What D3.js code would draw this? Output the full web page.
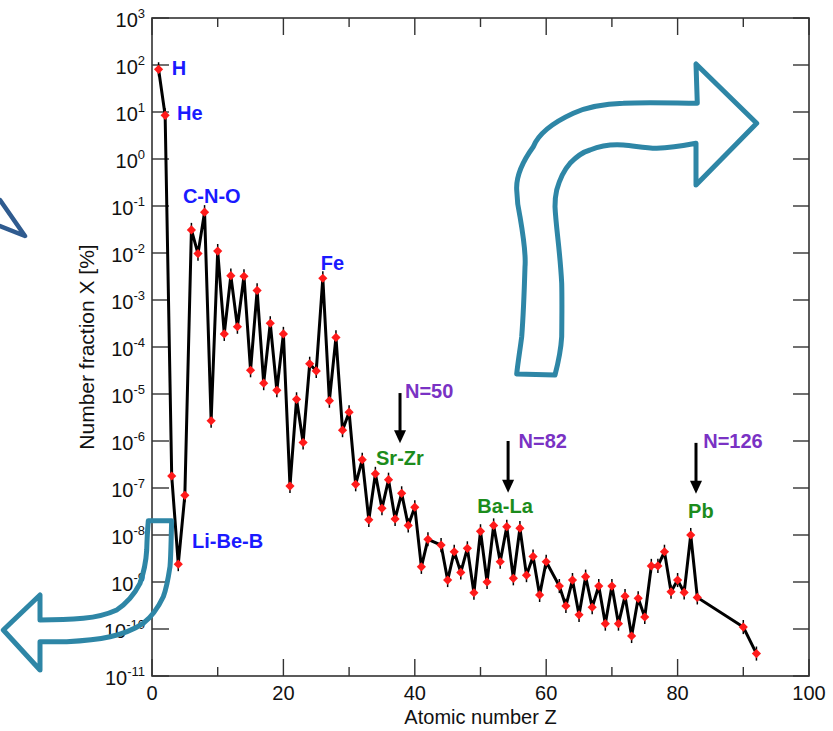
<!DOCTYPE html>
<html>
<head>
<meta charset="utf-8">
<script src="https://cdn.jsdelivr.net/npm/d3@7"></script>
<style>
  html, body { margin: 0; padding: 0; background: #fff; }
  svg { display: block; }
  text { font-family: "Liberation Sans", Arial, Helvetica, sans-serif; }
</style>
</head>
<body>
<svg id="chart" width="833" height="731"></svg>
<script>
// ---------------- data ----------------
const atomicZ = [
  1, 2, 3, 4, 5, 6, 7, 8, 9, 10,
  11, 12, 13, 14, 15, 16, 17, 18, 19, 20,
  21, 22, 23, 24, 25, 26, 27, 28, 29, 30,
  31, 32, 33, 34, 35, 36, 37, 38, 39, 40,
  41, 42, 44, 45, 46, 47, 48, 49, 50,
  51, 52, 53, 54, 55, 56, 57, 58, 59, 60,
  62, 63, 64, 65, 66, 67, 68, 69, 70,
  71, 72, 73, 74, 75, 76, 77, 78, 79, 80,
  81, 82, 83, 90, 92
];
const numberFraction = [
  81, 8.5, 1.8e-7, 2.4e-9, 7e-8, 0.031, 0.0097, 0.074, 2.7e-6, 0.011,
  1.9e-4, 3.3e-3, 2.7e-4, 3.2e-3, 3.2e-5, 1.6e-3, 1.7e-5, 3.2e-4, 1.2e-5, 1.9e-4,
  1.1e-7, 7.7e-6, 9.3e-7, 4.4e-5, 3.1e-5, 2.9e-3, 7.2e-6, 1.6e-4, 1.7e-6, 4.1e-6,
  1.2e-7, 4.0e-7, 2.1e-8, 2.0e-7, 3.7e-8, 1.5e-7, 2.2e-8, 7.7e-8, 1.6e-8, 3.9e-8,
  2.1e-9, 8.1e-9, 6.1e-9, 1.1e-9, 4.4e-9, 1.6e-9, 5.2e-9, 5.9e-10, 1.2e-8,
  1.0e-9, 1.6e-8, 2.7e-9, 1.5e-8, 1.2e-9, 1.4e-8, 1.4e-9, 3.5e-9, 5.3e-10, 2.7e-9,
  8.2e-10, 3.1e-10, 1.1e-9, 2.0e-10, 1.3e-9, 2.9e-10, 8.2e-10, 1.3e-10, 8.2e-10,
  1.3e-10, 5.0e-10, 7.1e-11, 4.5e-10, 1.8e-10, 2.2e-9, 2.2e-9, 4.4e-9, 6.2e-10, 1.1e-9,
  6.0e-10, 1.0e-8, 4.7e-10, 1.1e-10, 3.0e-11
];
const xTickValues = [0, 20, 40, 60, 80, 100];
const xMinorTickValues = [10, 30, 50, 70, 90];
const yTickExponents = [-11, -10, -9, -8, -7, -6, -5, -4, -3, -2, -1, 0, 1, 2, 3];

// element-group labels (position in data units: Z, value at text baseline)
const groupLabels = ["H", "He", "C-N-O", "Fe", "Li-Be-B"];
const groupLabelZ = [3.0, 3.8, 4.7, 25.7, 6.1];
const groupLabelV = [10 ** 1.79, 10 ** 0.83, 10 ** -0.94, 10 ** -2.36, 10 ** -8.28];

const peakLabels = ["Sr-Zr", "Ba-La", "Pb"];
const peakLabelZ = [34.1, 49.5, 81.6];
const peakLabelV = [10 ** -6.51, 10 ** -7.53, 10 ** -7.64];

const shellLabels = ["N=50", "N=82", "N=126"];
const shellLabelZ = [38.5, 55.8, 83.9];
const shellLabelV = [10 ** -5.085, 10 ** -6.15, 10 ** -6.15];
const shellArrowZ = [37.75, 54.2, 82.8];
const shellArrowTop = [10 ** -4.98, 10 ** -6.0, 10 ** -6.04];
const shellArrowBottom = [10 ** -6.05, 10 ** -7.1, 10 ** -7.12];

// ---------------- layout ----------------
const svg = d3.select("#chart");
const plotL = 152, plotR = 809, plotT = 18, plotB = 676;

const x = d3.scaleLinear().domain([0, 100]).range([plotL, plotR]);
const y = d3.scaleLog().domain([1e-11, 1e3]).range([plotB, plotT]);

const axisColor = "#333";

const g = svg.append("g");
function tickLine(x1, y1, x2, y2) {
  g.append("line").attr("x1", x1).attr("y1", y1).attr("x2", x2).attr("y2", y2)
    .attr("stroke", axisColor).attr("stroke-width", 1.4);
}
xTickValues.forEach(v => {
  tickLine(x(v), plotB, x(v), plotB - 17);
  tickLine(x(v), plotT, x(v), plotT + 17);
});
xMinorTickValues.forEach(v => {
  tickLine(x(v), plotB, x(v), plotB - 9);
  tickLine(x(v), plotT, x(v), plotT + 9);
});
yTickExponents.forEach(e => {
  tickLine(plotL, y(10 ** e), plotL + 17, y(10 ** e));
  tickLine(plotR, y(10 ** e), plotR - 16, y(10 ** e));
});

g.append("rect").attr("x", plotL).attr("y", plotT)
  .attr("width", plotR - plotL).attr("height", plotB - plotT)
  .attr("fill", "none").attr("stroke", axisColor).attr("stroke-width", 1.6);

xTickValues.forEach(v => {
  g.append("text").attr("x", x(v)).attr("y", plotB + 24)
    .attr("text-anchor", "middle").attr("font-size", 20).attr("fill", "#111")
    .text(v);
});
yTickExponents.forEach(e => {
  const t = g.append("text").attr("x", plotL - 7).attr("y", y(10 ** e) + 9)
    .attr("text-anchor", "end").attr("font-size", 20).attr("fill", "#111");
  t.append("tspan").text("10");
  t.append("tspan").attr("dy", -9).attr("font-size", 13).text(e);
});

g.append("text").attr("x", (plotL + plotR) / 2).attr("y", 724)
  .attr("text-anchor", "middle").attr("font-size", 20).attr("fill", "#111")
  .text("Atomic number Z");
g.append("text")
  .attr("transform", `translate(94, ${(plotT + plotB) / 2}) rotate(-90)`)
  .attr("text-anchor", "middle").attr("font-size", 21).attr("fill", "#111")
  .text("Number fraction X [%]");

// ---------------- data series ----------------
const pts = atomicZ.map((z, i) => ({ z, v: numberFraction[i] }));

const eb = 0.15;
g.append("g").selectAll("line").data(pts).join("line")
  .attr("x1", d => x(d.z)).attr("x2", d => x(d.z))
  .attr("y1", d => y(d.v * 10 ** eb)).attr("y2", d => y(d.v / 10 ** eb))
  .attr("stroke", "#000").attr("stroke-width", 1.5);

const line = d3.line().x(d => x(d.z)).y(d => y(d.v));
g.append("path").datum(pts).attr("d", line)
  .attr("fill", "none").attr("stroke", "#000").attr("stroke-width", 3)
  .attr("stroke-linejoin", "miter").attr("stroke-miterlimit", 3);

const mk = 4.6;
g.append("g").selectAll("path").data(pts).join("path")
  .attr("d", `M0,${-mk}L${mk},0L0,${mk}L${-mk},0Z`)
  .attr("transform", d => `translate(${x(d.z)},${y(d.v)})`)
  .attr("fill", "#ff1a1a");

// ---------------- annotations ----------------
groupLabels.forEach((t, i) => {
  g.append("text").attr("x", x(groupLabelZ[i])).attr("y", y(groupLabelV[i]))
    .attr("font-size", 20).attr("font-weight", "bold").attr("fill", "#1a1aff")
    .text(t);
});
peakLabels.forEach((t, i) => {
  g.append("text").attr("x", x(peakLabelZ[i])).attr("y", y(peakLabelV[i]))
    .attr("font-size", 20).attr("font-weight", "bold").attr("fill", "#1c8c1c")
    .text(t);
});
shellLabels.forEach((t, i) => {
  g.append("text").attr("x", x(shellLabelZ[i])).attr("y", y(shellLabelV[i]))
    .attr("font-size", 20).attr("font-weight", "bold").attr("fill", "#7a32c4")
    .text(t);
  const ax = x(shellArrowZ[i]), y0 = y(shellArrowTop[i]), y1 = y(shellArrowBottom[i]);
  g.append("line").attr("x1", ax).attr("x2", ax).attr("y1", y0).attr("y2", y1 - 10)
    .attr("stroke", "#000").attr("stroke-width", 3);
  g.append("path").attr("d", `M${ax - 6},${y1 - 13} L${ax + 6},${y1 - 13} L${ax},${y1} Z`)
    .attr("fill", "#000");
});

// ---------------- decorative overlay arrows ----------------
const deco = svg.append("g").attr("fill", "none").attr("stroke-linejoin", "round").attr("stroke-linecap", "round");
deco.append("path")
  .attr("d", "M756.7,123.3 L696,64 L697.3,103.3 C670,103 645,102 623.3,103.3 C600,104 585,108 573.3,113.3 C550,124 538,135 533.3,146.7 C520,165 516,178 516.7,190 C517,200 518,208 520,216.7 C524,240 526,255 525,266.7 C524,300 523,320 521.7,336.7 C520,350 518,362 516.7,374 L555,375 C559,360 561,348 561.7,336.7 C562,310 562,295 561.7,283.3 C560,250 556,228 555,206.7 C555,200 555.5,195 556.7,190 C560,178 564,170 570,163.3 C577,156 583,152 590,150 C600,146 611,144 623.3,145 C635,146 645,148 656.7,148.3 C670,148 682,146 696,143.3 L696,185 Z")
  .attr("stroke", "#2e86a6").attr("stroke-width", 5);
deco.append("path")
  .attr("d", "M148.3,520.7 L171.7,520.7 C171,540 171,555 170,566.7 C168,580 166,590 163.3,596.7 C157,610 150,618 143.3,623.3 C133,630 122,634 110,636.7 C95,640 80,641 66.7,641.7 L40,641.7 L40,670 L3.3,630 L40,595 L40,620 C55,620 70,619.5 83.3,618.3 C97,617 108,614 116.7,610 C127,603 134,595 140,583.3 C144,572 146,562 146.7,550 C147,540 147.5,530 148.3,520.7 Z")
  .attr("stroke", "#2e86a6").attr("stroke-width", 5);
deco.append("path")
  .attr("d", "M0,200 L25,236 L0,226")
  .attr("stroke", "#2f5b8f").attr("stroke-width", 4.5);
</script>
</body>
</html>
